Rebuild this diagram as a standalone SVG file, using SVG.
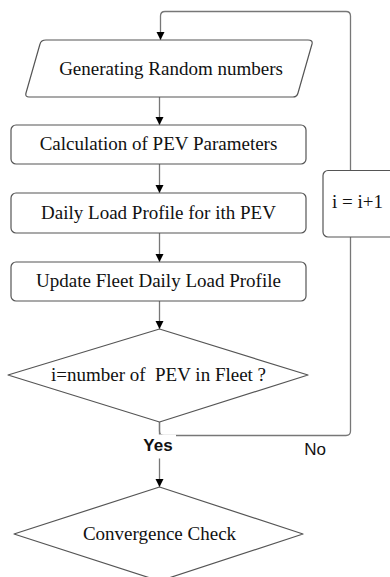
<svg xmlns="http://www.w3.org/2000/svg" width="390" height="577" viewBox="0 0 390 577">
<defs>
<style>
.shape{fill:#fff;stroke:#555;stroke-width:1.2;stroke-linejoin:round}
.t{font-family:"Liberation Serif",serif;font-size:19px;fill:#111;text-anchor:middle;white-space:pre}
.conn{fill:none;stroke:#777;stroke-width:1.3}
.lbl{font-family:"Liberation Sans",Arial,sans-serif;font-size:17px;fill:#111;text-anchor:middle}
</style>
<marker id="ah" viewBox="0 0 10 10" refX="10" refY="5" markerWidth="8" markerHeight="9" markerUnits="userSpaceOnUse" orient="auto">
<path d="M0,0 L10,5 L0,10 z" fill="#000"/>
</marker>
</defs>
<rect width="390" height="577" fill="#fff"/>
<g id="connectors">
<path class="conn" marker-end="url(#ah)" d="M159.5,97 V125"/>
<path class="conn" marker-end="url(#ah)" d="M159.5,164 V193"/>
<path class="conn" marker-end="url(#ah)" d="M159.5,233 V262"/>
<path class="conn" marker-end="url(#ah)" d="M159.5,301 V329"/>
<path class="conn" marker-end="url(#ah)" d="M159.5,422 V487"/>
<path class="conn" d="M159.5,422 V431 Q159.5,435.5 164,435.5 H346 Q350.5,435.5 350.5,431 V237"/>
<path class="conn" marker-end="url(#ah)" d="M350.5,170.5 V16 Q350.5,11.5 346,11.5 H165 Q160.5,11.5 160.5,16 V40"/>
<rect x="141" y="434.5" width="35" height="24" fill="#fff"/>
<text class="lbl" x="158" y="451" font-weight="bold">Yes</text>
<text class="lbl" x="315" y="455">No</text>
</g>
<g id="n-generate">
<path class="shape" d="M46,40 H308 Q313,40 312,44 L298,93 Q297,97 293,97 H29 Q25,97 26,93 L40,44 Q41,40 46,40 Z"/>
<text class="t" x="171" y="75">Generating Random numbers</text>
</g>
<g id="n-calc">
<rect class="shape" x="11" y="125" width="295" height="39" rx="5"/>
<text class="t" x="158.5" y="150">Calculation of PEV Parameters</text>
</g>
<g id="n-daily">
<rect class="shape" x="11" y="193" width="295" height="40" rx="5"/>
<text class="t" x="158.5" y="219">Daily Load Profile for ith PEV</text>
</g>
<g id="n-update">
<rect class="shape" x="11" y="262" width="295" height="39" rx="5"/>
<text class="t" x="158.5" y="287">Update Fleet Daily Load Profile</text>
</g>
<g id="n-decision">
<path class="shape" d="M159.5,329 L308,375 L159.5,422 L8,375 Z"/>
<text class="t" x="158.5" y="381">i=number of  PEV in Fleet ?</text>
</g>
<g id="n-incr">
<rect class="shape" x="323" y="170.5" width="80" height="66.5" rx="5"/>
<text class="t" x="332" y="208" style="text-anchor:start">i = i+1</text>
</g>
<g id="n-converge">
<path class="shape" d="M159.5,487 L303,534 L159.5,581 L14,534 Z"/>
<text class="t" x="159.5" y="540">Convergence Check</text>
</g>
</svg>
